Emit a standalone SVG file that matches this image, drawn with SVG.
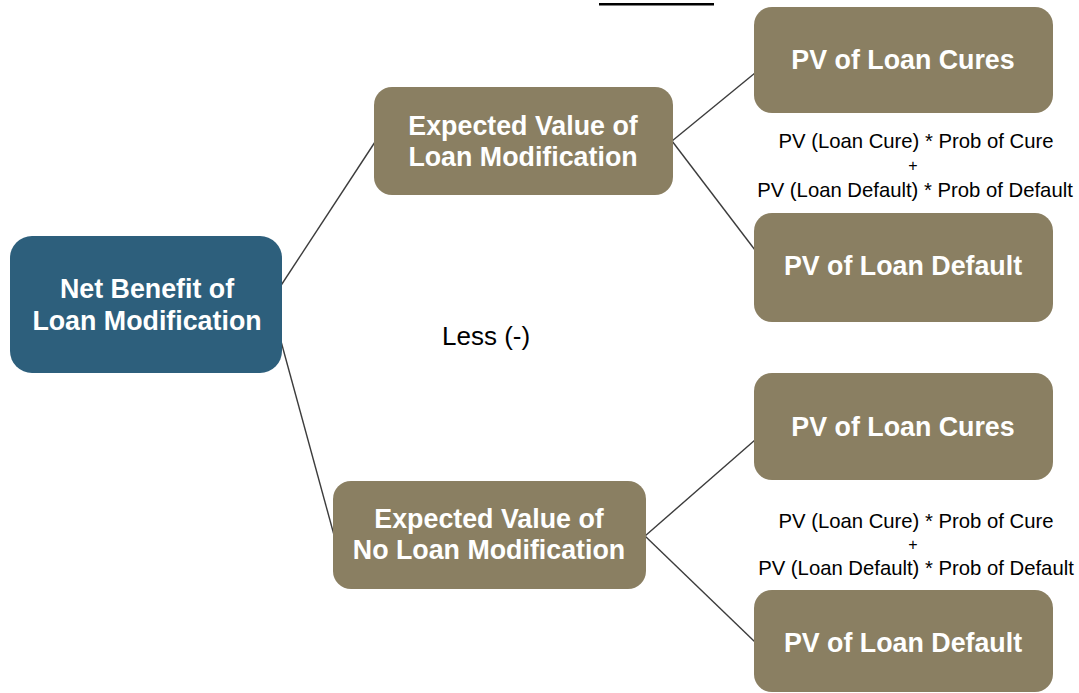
<svg xmlns="http://www.w3.org/2000/svg" width="1079" height="693" viewBox="0 0 1079 693">
<style>
.tan{fill:#8a7f62;}
.blue{fill:#2d5f7c;}
.lbl{font-family:"Liberation Sans",Arial,sans-serif;font-weight:bold;font-size:26.8px;fill:#ffffff;text-anchor:middle;}
.f{font-family:"Liberation Sans",Arial,sans-serif;font-size:20.3px;fill:#000;text-anchor:middle;}
.conn line{stroke:#3c3c3c;stroke-width:1.4;}
</style>
<rect width="1079" height="693" fill="#ffffff"/>
<rect x="599" y="3" width="115" height="2.5" fill="#000"/>
<g class="conn" id="connectors">
<line x1="278" y1="290" x2="375" y2="142"/>
<line x1="279" y1="334" x2="334" y2="535"/>
<line x1="672" y1="141" x2="755" y2="73"/>
<line x1="672" y1="141" x2="755" y2="250"/>
<line x1="645" y1="536" x2="755" y2="440"/>
<line x1="645" y1="536" x2="755" y2="642"/>
</g>
<g id="net-benefit">
<rect class="blue" x="10" y="236" width="272" height="137" rx="22"/>
<text class="lbl" x="147" y="298">Net Benefit of</text>
<text class="lbl" x="147" y="330">Loan Modification</text>
</g>
<g id="ev-mod">
<rect class="tan" x="374" y="87" width="299" height="108" rx="18"/>
<text class="lbl" x="523" y="135">Expected Value of</text>
<text class="lbl" x="523" y="166">Loan Modification</text>
</g>
<g id="ev-nomod">
<rect class="tan" x="333" y="481" width="313" height="108" rx="18"/>
<text class="lbl" x="489" y="528">Expected Value of</text>
<text class="lbl" x="489" y="559">No Loan Modification</text>
</g>
<g id="pv-cures-1">
<rect class="tan" x="754" y="7" width="299" height="106" rx="18"/>
<text class="lbl" x="903" y="69">PV of Loan Cures</text>
</g>
<g id="pv-default-1">
<rect class="tan" x="754" y="213" width="299" height="109" rx="18"/>
<text class="lbl" x="903" y="275">PV of Loan Default</text>
</g>
<g id="pv-cures-2">
<rect class="tan" x="754" y="373" width="299" height="107" rx="18"/>
<text class="lbl" x="903" y="436">PV of Loan Cures</text>
</g>
<g id="pv-default-2">
<rect class="tan" x="754" y="590" width="299" height="102" rx="18"/>
<text class="lbl" x="903" y="652">PV of Loan Default</text>
</g>
<g id="formula-1">
<text class="f" x="916" y="148">PV (Loan Cure) * Prob of Cure</text>
<text class="f" x="913" y="171" style="font-size:16px">+</text>
<text class="f" x="915" y="197">PV (Loan Default) * Prob of Default</text>
</g>
<g id="formula-2">
<text class="f" x="916" y="528">PV (Loan Cure) * Prob of Cure</text>
<text class="f" x="913" y="550" style="font-size:16px">+</text>
<text class="f" x="916" y="575">PV (Loan Default) * Prob of Default</text>
</g>
<text x="442" y="345" style="font-family:'Liberation Sans',Arial,sans-serif;font-size:26px;fill:#000">Less (-)</text>
</svg>
